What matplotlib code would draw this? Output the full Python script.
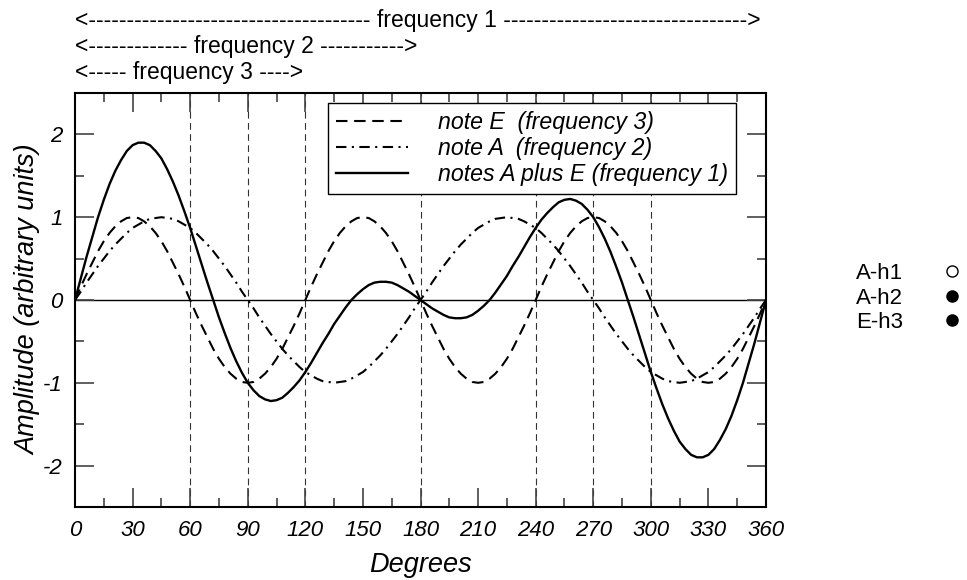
import matplotlib

matplotlib.use("Agg")
import matplotlib.pyplot as plt
from matplotlib.lines import Line2D
from matplotlib.ticker import MultipleLocator

plt.rcParams["font.family"] = ["Liberation Sans", "DejaVu Sans"]
plt.rcParams["axes.unicode_minus"] = False

# values every 3 degrees
DEGREES = list(range(0, 361, 3))

NOTE_E = [
    0, 0.16, 0.31, 0.45, 0.59, 0.71, 0.81, 0.89, 0.95, 0.99, 1, 0.99, 0.95, 0.89, 0.81, 0.71, 0.59, 0.45, 0.31, 0.16,
    0, -0.16, -0.31, -0.45, -0.59, -0.71, -0.81, -0.89, -0.95, -0.99, -1, -0.99, -0.95, -0.89, -0.81, -0.71, -0.59, -0.45, -0.31, -0.16,
    0, 0.16, 0.31, 0.45, 0.59, 0.71, 0.81, 0.89, 0.95, 0.99, 1, 0.99, 0.95, 0.89, 0.81, 0.71, 0.59, 0.45, 0.31, 0.16,
    0, -0.16, -0.31, -0.45, -0.59, -0.71, -0.81, -0.89, -0.95, -0.99, -1, -0.99, -0.95, -0.89, -0.81, -0.71, -0.59, -0.45, -0.31, -0.16,
    0, 0.16, 0.31, 0.45, 0.59, 0.71, 0.81, 0.89, 0.95, 0.99, 1, 0.99, 0.95, 0.89, 0.81, 0.71, 0.59, 0.45, 0.31, 0.16,
    0, -0.16, -0.31, -0.45, -0.59, -0.71, -0.81, -0.89, -0.95, -0.99, -1, -0.99, -0.95, -0.89, -0.81, -0.71, -0.59, -0.45, -0.31, -0.16,
    0,
]

NOTE_A = [
    0, 0.10, 0.21, 0.31, 0.41, 0.5, 0.59, 0.67, 0.74, 0.81, 0.87, 0.91, 0.95, 0.98, 0.99,
    1, 0.99, 0.98, 0.95, 0.91, 0.87, 0.81, 0.74, 0.67, 0.59, 0.5, 0.41, 0.31, 0.21, 0.10,
    0, -0.10, -0.21, -0.31, -0.41, -0.5, -0.59, -0.67, -0.74, -0.81, -0.87, -0.91, -0.95, -0.98, -0.99,
    -1, -0.99, -0.98, -0.95, -0.91, -0.87, -0.81, -0.74, -0.67, -0.59, -0.5, -0.41, -0.31, -0.21, -0.10,
    0, 0.10, 0.21, 0.31, 0.41, 0.5, 0.59, 0.67, 0.74, 0.81, 0.87, 0.91, 0.95, 0.98, 0.99,
    1, 0.99, 0.98, 0.95, 0.91, 0.87, 0.81, 0.74, 0.67, 0.59, 0.5, 0.41, 0.31, 0.21, 0.10,
    0, -0.10, -0.21, -0.31, -0.41, -0.5, -0.59, -0.67, -0.74, -0.81, -0.87, -0.91, -0.95, -0.98, -0.99,
    -1, -0.99, -0.98, -0.95, -0.91, -0.87, -0.81, -0.74, -0.67, -0.59, -0.5, -0.41, -0.31, -0.21, -0.10,
    0,
]

NOTES_SUM = [
    0, 0.26, 0.52, 0.76, 1.00, 1.21, 1.40, 1.56, 1.69, 1.80, 1.87, 1.90, 1.90, 1.87, 1.80,
    1.71, 1.58, 1.43, 1.26, 1.07, 0.87, 0.65, 0.43, 0.21, 0, -0.21, -0.40, -0.58, -0.74, -0.88,
    -1.00, -1.09, -1.16, -1.20, -1.22, -1.21, -1.18, -1.12, -1.05, -0.97, -0.87, -0.76, -0.64, -0.52, -0.41,
    -0.29, -0.19, -0.09, 0, 0.07, 0.13, 0.18, 0.21, 0.22, 0.22, 0.21, 0.18, 0.14, 0.10, 0.05,
    0, -0.05, -0.10, -0.14, -0.18, -0.21, -0.22, -0.22, -0.21, -0.18, -0.13, -0.07, 0, 0.09, 0.19,
    0.29, 0.41, 0.52, 0.64, 0.76, 0.87, 0.97, 1.05, 1.12, 1.18, 1.21, 1.22, 1.20, 1.16, 1.09,
    1.00, 0.88, 0.74, 0.58, 0.40, 0.21, 0, -0.21, -0.43, -0.65, -0.87, -1.07, -1.26, -1.43, -1.58,
    -1.71, -1.80, -1.87, -1.90, -1.90, -1.87, -1.80, -1.69, -1.56, -1.40, -1.21, -1.00, -0.76, -0.52, -0.26,
    0,
]

MARKER_LINES = [60, 90, 120, 180, 240, 270, 300]

SERIES_LABELS = [
    "note E  (frequency 3)",
    "note A  (frequency 2)",
    "notes A plus E (frequency 1)",
]

FREQ_TEXT = [
    "<------------------------------------- frequency 1 -------------------------------->",
    "<------------- frequency 2 ----------->",
    "<----- frequency 3 ---->",
]

HARMONICS = ["A-h1", "A-h2", "E-h3"]
HARMONIC_FILLED = [False, True, True]


def main() -> None:
    fig = plt.figure(figsize=(9.67, 5.8), dpi=100)
    ax = fig.add_axes([75 / 967, 73 / 580, 691 / 967, 414 / 580])

    for x in MARKER_LINES:
        ax.axvline(x, color="#333333", lw=0.8, dashes=(6, 4), zorder=1)
    ax.axhline(0, color="black", lw=1.0, zorder=1)

    style = dict(color="black", solid_joinstyle="round", dash_joinstyle="round")
    ax.plot(DEGREES, NOTE_E, lw=1.5, dashes=(5.5, 3.2), label=SERIES_LABELS[0], **style)
    ax.plot(DEGREES, NOTE_A, lw=1.5, dashes=(5, 2.6, 1, 2.6), label=SERIES_LABELS[1], **style)
    ax.plot(DEGREES, NOTES_SUM, lw=1.7, label=SERIES_LABELS[2], **style)

    ax.set_xlim(0, 360)
    ax.set_ylim(-2.5, 2.5)
    ax.xaxis.set_major_locator(MultipleLocator(30))
    ax.xaxis.set_minor_locator(MultipleLocator(15))
    ax.yaxis.set_major_locator(MultipleLocator(1))
    ax.yaxis.set_minor_locator(MultipleLocator(0.5))
    ax.tick_params(which="both", direction="in", top=True, right=True, color="#444444")
    ax.tick_params(which="major", length=13.5, width=1.2, pad=9, labelsize=16)
    ax.tick_params(which="minor", length=6.5, width=1.2)
    for label in ax.get_xticklabels() + ax.get_yticklabels():
        label.set_fontstyle("italic")
    for spine in ax.spines.values():
        spine.set_linewidth(1.5)

    ax.set_xlabel("Degrees", fontsize=19.5, fontstyle="italic", labelpad=8)
    ax.set_ylabel("Amplitude (arbitrary units)", fontsize=19.5, fontstyle="italic")
    ax.yaxis.set_label_coords(-0.048, 0.5)

    leg = ax.legend(
        loc="upper right",
        bbox_to_anchor=(0.957, 0.976),
        borderaxespad=0,
        fancybox=False,
        framealpha=1,
        edgecolor="black",
        handlelength=3.1,
        handletextpad=1.3,
        labelspacing=0.12,
        borderpad=0.35,
        prop={"size": 16.7, "style": "italic"},
    )
    leg.get_frame().set_linewidth(1.0)

    for i, text in enumerate(FREQ_TEXT):
        fig.text(75 / 967, 1 - (20 + 26.5 * i) / 580, text, fontsize=16.5, va="center", ha="left")

    handles = [
        Line2D([], [], ls="none", marker="o", markersize=8, markeredgecolor="black",
               markerfacecolor="black" if filled else "white", markeredgewidth=1)
        for filled in HARMONIC_FILLED
    ]
    fig.legend(
        handles,
        HARMONICS,
        loc="center left",
        bbox_to_anchor=(847 / 967, 1 - 298 / 580),
        borderaxespad=0,
        frameon=False,
        markerfirst=False,
        handlelength=2,
        handletextpad=1.2,
        labelspacing=0.15,
        prop={"size": 16},
    )

    fig.savefig("out.png", dpi=100)
    plt.close(fig)


if __name__ == "__main__":
    main()
